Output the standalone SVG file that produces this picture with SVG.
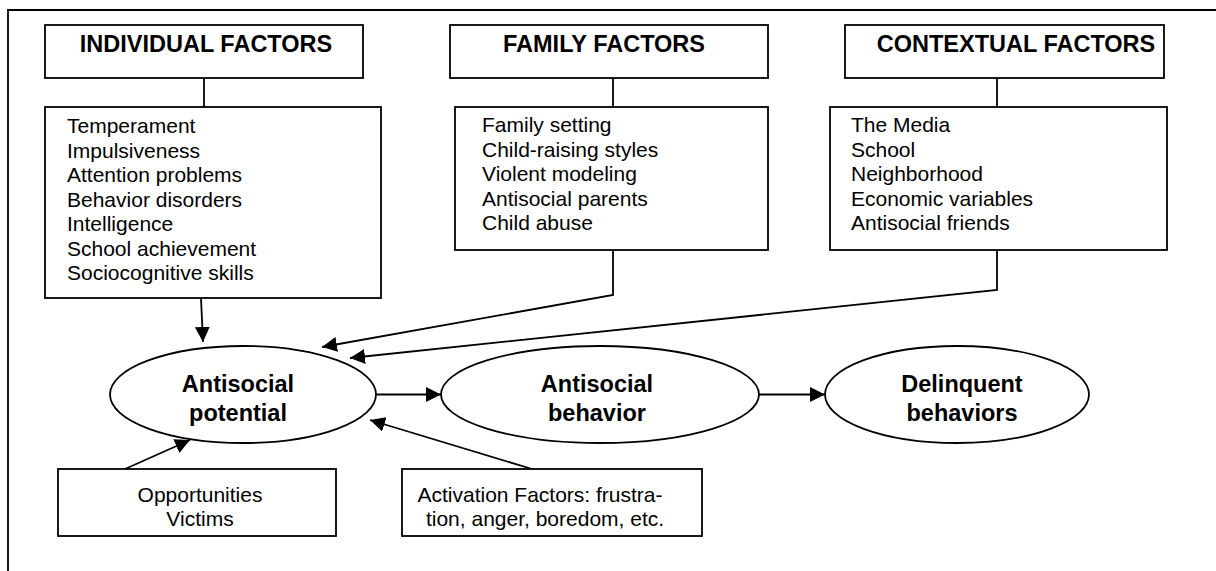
<svg xmlns="http://www.w3.org/2000/svg" width="1216" height="571" viewBox="0 0 1216 571">
<defs>
<style>
.box{fill:#fff;stroke:#000;stroke-width:1.8}
.ell{fill:#fff;stroke:#000;stroke-width:1.8}
.hdr{font-family:"Liberation Sans",Arial,sans-serif;font-weight:bold;font-size:23.5px;text-anchor:middle;fill:#000}
.item{font-family:"Liberation Sans",Arial,sans-serif;font-size:21px;fill:#000}
.mid{text-anchor:middle}
.etx{font-family:"Liberation Sans",Arial,sans-serif;font-weight:bold;font-size:23.5px;text-anchor:middle;fill:#000}
.con{fill:none;stroke:#000;stroke-width:1.8}
</style>
<marker id="ah" markerUnits="userSpaceOnUse" markerWidth="16" markerHeight="16" refX="15" refY="7.5" orient="auto">
<path d="M0,0 L15,7.5 L0,15 z" fill="#000"/>
</marker>
</defs>
<rect width="1216" height="571" fill="#fff"/>
<g id="frame">
<path d="M8,571 L8,10 L1216,10" fill="none" stroke="#000" stroke-width="1.8"/>
</g>
<g id="connectors">
<line class="con" x1="204" y1="78" x2="204" y2="107"/>
<line class="con" x1="613" y1="78" x2="613" y2="107"/>
<line class="con" x1="997" y1="78" x2="997" y2="107"/>
<line class="con" x1="201" y1="298" x2="203" y2="342" marker-end="url(#ah)"/>
<polyline class="con" points="613,250 613,295 322,347" marker-end="url(#ah)"/>
<polyline class="con" points="997,250 997,290 350,358" marker-end="url(#ah)"/>
<line class="con" x1="376" y1="394.5" x2="441" y2="394.5" marker-end="url(#ah)"/>
<line class="con" x1="759" y1="394.5" x2="825" y2="394.5" marker-end="url(#ah)"/>
<line class="con" x1="125" y1="469" x2="190" y2="440" marker-end="url(#ah)"/>
<line class="con" x1="532" y1="469" x2="370" y2="420" marker-end="url(#ah)"/>
</g>
<g id="individual-header">
<rect class="box" x="45" y="25" width="318" height="53"/>
<text class="hdr" x="206" y="52">INDIVIDUAL FACTORS</text>
</g>
<g id="family-header">
<rect class="box" x="450" y="25" width="318" height="53"/>
<text class="hdr" x="604" y="52">FAMILY FACTORS</text>
</g>
<g id="contextual-header">
<rect class="box" x="845" y="25" width="319" height="53"/>
<text class="hdr" x="1016" y="52">CONTEXTUAL FACTORS</text>
</g>
<g id="individual-list">
<rect class="box" x="45" y="107" width="336" height="191"/>
<text class="item" x="67" y="133">Temperament</text>
<text class="item" x="67" y="157.5">Impulsiveness</text>
<text class="item" x="67" y="182">Attention problems</text>
<text class="item" x="67" y="206.5">Behavior disorders</text>
<text class="item" x="67" y="231">Intelligence</text>
<text class="item" x="67" y="255.5">School achievement</text>
<text class="item" x="67" y="280">Sociocognitive skills</text>
</g>
<g id="family-list">
<rect class="box" x="455" y="107" width="313" height="143"/>
<text class="item" x="482" y="132">Family setting</text>
<text class="item" x="482" y="156.5">Child-raising styles</text>
<text class="item" x="482" y="181">Violent modeling</text>
<text class="item" x="482" y="205.5">Antisocial parents</text>
<text class="item" x="482" y="230">Child abuse</text>
</g>
<g id="contextual-list">
<rect class="box" x="830" y="107" width="337" height="143"/>
<text class="item" x="851" y="132">The Media</text>
<text class="item" x="851" y="156.5">School</text>
<text class="item" x="851" y="181">Neighborhood</text>
<text class="item" x="851" y="205.5">Economic variables</text>
<text class="item" x="851" y="230">Antisocial friends</text>
</g>
<g id="antisocial-potential">
<ellipse class="ell" cx="243" cy="394.5" rx="133" ry="48.5"/>
<text class="etx" x="238" y="392">Antisocial</text>
<text class="etx" x="238" y="421">potential</text>
</g>
<g id="antisocial-behavior">
<ellipse class="ell" cx="600" cy="394.5" rx="159" ry="48.5"/>
<text class="etx" x="597" y="392">Antisocial</text>
<text class="etx" x="597" y="421">behavior</text>
</g>
<g id="delinquent-behaviors">
<ellipse class="ell" cx="957" cy="394.5" rx="132" ry="48.5"/>
<text class="etx" x="962" y="392">Delinquent</text>
<text class="etx" x="962" y="421">behaviors</text>
</g>
<g id="opportunities">
<rect class="box" x="58" y="469" width="278" height="67"/>
<text class="item mid" x="200" y="502">Opportunities</text>
<text class="item mid" x="200" y="526">Victims</text>
</g>
<g id="activation">
<rect class="box" x="402" y="469" width="300" height="67"/>
<text class="item mid" x="540" y="502">Activation Factors: frustra-</text>
<text class="item mid" x="545" y="526">tion, anger, boredom, etc.</text>
</g>
</svg>
